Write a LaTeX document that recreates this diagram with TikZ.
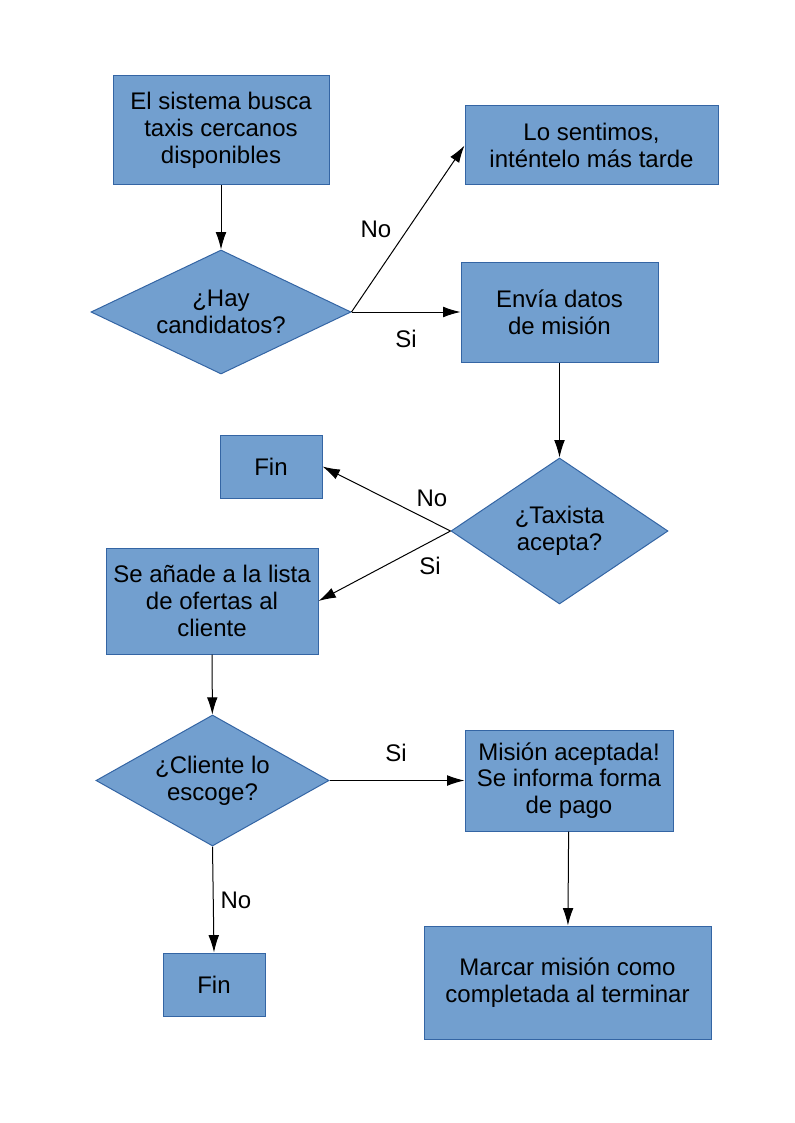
\documentclass[tikz,border=0pt]{standalone}
\usepackage{fontspec}
\setmainfont{Liberation Sans}
\usetikzlibrary{shapes.geometric}
\usetikzlibrary{arrows.meta}
\definecolor{relleno}{HTML}{729FCF}
\definecolor{borde}{HTML}{3465A4}

\begin{document}
\begin{tikzpicture}[x=0.75pt,y=-0.75pt,
	caja/.style={draw=borde, fill=relleno, rectangle, align=center, inner sep=0pt, line width=0.75pt},
	pregunta/.style={draw=borde, fill=relleno, diamond, align=center, inner sep=0pt, line width=0.75pt},
	etiq/.style={inner sep=0pt},
	every node/.style={font=\fontsize{18}{20.1}\selectfont},
	flecha/.style={->, >={Latex[length=13pt,width=8pt]}, line width=0.75pt}]
	\useasboundingbox (0,0) rectangle (794,1123);
	\node[caja, minimum width=162pt, minimum height=81.75pt] (busca) at (221,130.5) {El sistema busca\\taxis cercanos\\disponibles};
	\node[caja, minimum width=189.75pt, minimum height=59.25pt] (siento) at (591.5,145.5) {Lo sentimos,\\inténtelo más tarde};
	\node[pregunta, aspect=2.1, minimum width=195pt, minimum height=93pt] (hay) at (221,312) {¿Hay\\candidatos?};
	\node[caja, minimum width=147.75pt, minimum height=75pt] (envia) at (559.5,312) {Envía datos\\de misión};
	\node[pregunta, aspect=1.49, minimum width=162.75pt, minimum height=109.5pt] (acepta) at (559.5,531) {¿Taxista\\acepta?};
	\node[caja, minimum width=76.5pt, minimum height=47.25pt] (fin1) at (271,466.5) {Fin};
	\node[caja, minimum width=159pt, minimum height=79.5pt] (lista) at (212,601) {Se añade a la lista\\de ofertas al\\cliente};
	\node[pregunta, aspect=1.78, minimum width=174.75pt, minimum height=98.25pt] (escoge) at (212.5,780.5) {¿Cliente lo\\escoge?};
	\node[caja, minimum width=156pt, minimum height=75.75pt] (pago) at (569,780.5) {Misión aceptada!\\Se informa forma\\de pago};
	\node[caja, minimum width=76.5pt, minimum height=47.25pt] (fin2) at (214,984.5) {Fin};
	\node[caja, minimum width=215.25pt, minimum height=84.75pt] (marcar) at (567.5,982.5) {Marcar misión como\\completada al terminar};
	% conectores
	\draw[flecha] (busca) -- (hay);
	\draw[flecha] (hay.east) -- (siento.west);
	\draw[flecha] (hay.east) -- (envia.west);
	\draw[flecha] (envia) -- (acepta);
	\draw[flecha] (acepta.west) -- (fin1.east);
	\draw[flecha] (acepta.west) -- (lista.east);
	\draw[flecha] (lista) -- (escoge);
	\draw[flecha] (escoge.east) -- (pago.west);
	\draw[flecha] (escoge.south) -- (fin2.north);
	\draw[flecha] (pago) -- (marcar);
	% etiquetas
	\node[etiq] (no1) at (376,229) {No};
	\node[etiq] (si1) at (406,339) {Si};
	\node[etiq] (no2) at (432,498) {No};
	\node[etiq] (si2) at (430,566) {Si};
	\node[etiq] (si3) at (396,753) {Si};
	\node[etiq] (no3) at (236,900) {No};
\end{tikzpicture}
\end{document}
